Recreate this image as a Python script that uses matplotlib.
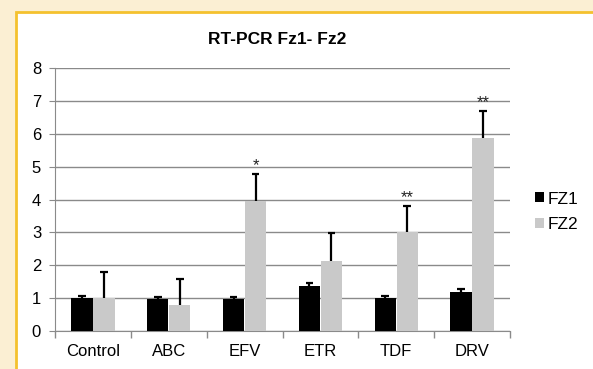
import numpy as np
import matplotlib
matplotlib.use('Agg')
import matplotlib.pyplot as plt
from matplotlib.patches import Rectangle

plt.rcParams['font.family'] = ['Liberation Sans', 'DejaVu Sans']

# data
categories = ['Control', 'ABC', 'EFV', 'ETR', 'TDF', 'DRV']
fz1 = [1.0, 0.97, 0.97, 1.37, 1.0, 1.2]
fz1_err = [0.07, 0.06, 0.07, 0.08, 0.07, 0.08]
fz2 = [1.0, 0.8, 3.95, 2.14, 3.0, 5.88]
fz2_err = [0.8, 0.78, 0.83, 0.83, 0.81, 0.81]
stars = ['', '', '*', '', '**', '**']

fig = plt.figure(figsize=(5.93, 3.69), dpi=100, facecolor='#FBEFD3')

# white panel with yellow frame
fig.patches.append(Rectangle((16 / 593, -0.1), 1.0, 1 - 12 / 369 + 0.1,
                             transform=fig.transFigure, facecolor='white',
                             edgecolor='#F4C12E', linewidth=2, zorder=-10))

ax = fig.add_axes([55 / 593, 1 - 331 / 369, 455 / 593, 263 / 369])
ax.set_facecolor('none')

x = np.arange(len(categories))
w = 0.28
x1 = x - w / 2 - 0.005
x2 = x + w / 2 + 0.005
b1 = ax.bar(x1, fz1, w, color='black', zorder=3, label='FZ1')
b2 = ax.bar(x2, fz2, w, color='#C9C9C9', zorder=3, label='FZ2')

# upper-only error bars with caps
cap = 0.05
for xs, vals, errs in [(x1, fz1, fz1_err), (x2, fz2, fz2_err)]:
    tops = np.array(vals) + np.array(errs)
    ax.vlines(xs, vals, tops, color='black', linewidth=1.6, zorder=4)
    ax.hlines(tops, xs - cap, xs + cap, color='black', linewidth=1.6, zorder=4)

for xi, v, e, s in zip(x2, fz2, fz2_err, stars):
    if s:
        ax.text(xi, v + e + 0.03, s, ha='center', va='bottom',
                fontsize=12, color='#222222')

ax.set_xlim(-0.5, len(categories) - 0.5)
ax.set_ylim(0, 8)
ax.set_yticks(range(0, 9))
ax.yaxis.grid(True, color='#8A8A8A', linewidth=1)
ax.set_axisbelow(True)

ax.set_xticks(x)
ax.set_xticklabels(categories)
ax.set_xticks(np.arange(-0.5, len(categories)), minor=True)
ax.tick_params(axis='x', which='major', length=0, pad=9, labelsize=12)
ax.tick_params(axis='x', which='minor', length=5, color='#8A8A8A', width=1)
ax.tick_params(axis='y', length=4, color='#8A8A8A', labelsize=12, pad=6)

for sp in ['top', 'right']:
    ax.spines[sp].set_visible(False)
ax.spines['left'].set_color('#8A8A8A')
ax.spines['bottom'].set_color('#8A8A8A')

fig.text(277 / 593, 1 - 40 / 369, 'RT-PCR Fz1- Fz2', ha='center', va='center',
         fontsize=12.5, fontweight='bold')

fig.legend(handles=[b1, b2], loc='center left', bbox_to_anchor=(0.876, 0.426),
           frameon=False, fontsize=12.5, handlelength=0.5, handleheight=0.5,
           handletextpad=0.2, labelspacing=0.6)

fig.savefig('out.png', dpi=100, facecolor=fig.get_facecolor())
